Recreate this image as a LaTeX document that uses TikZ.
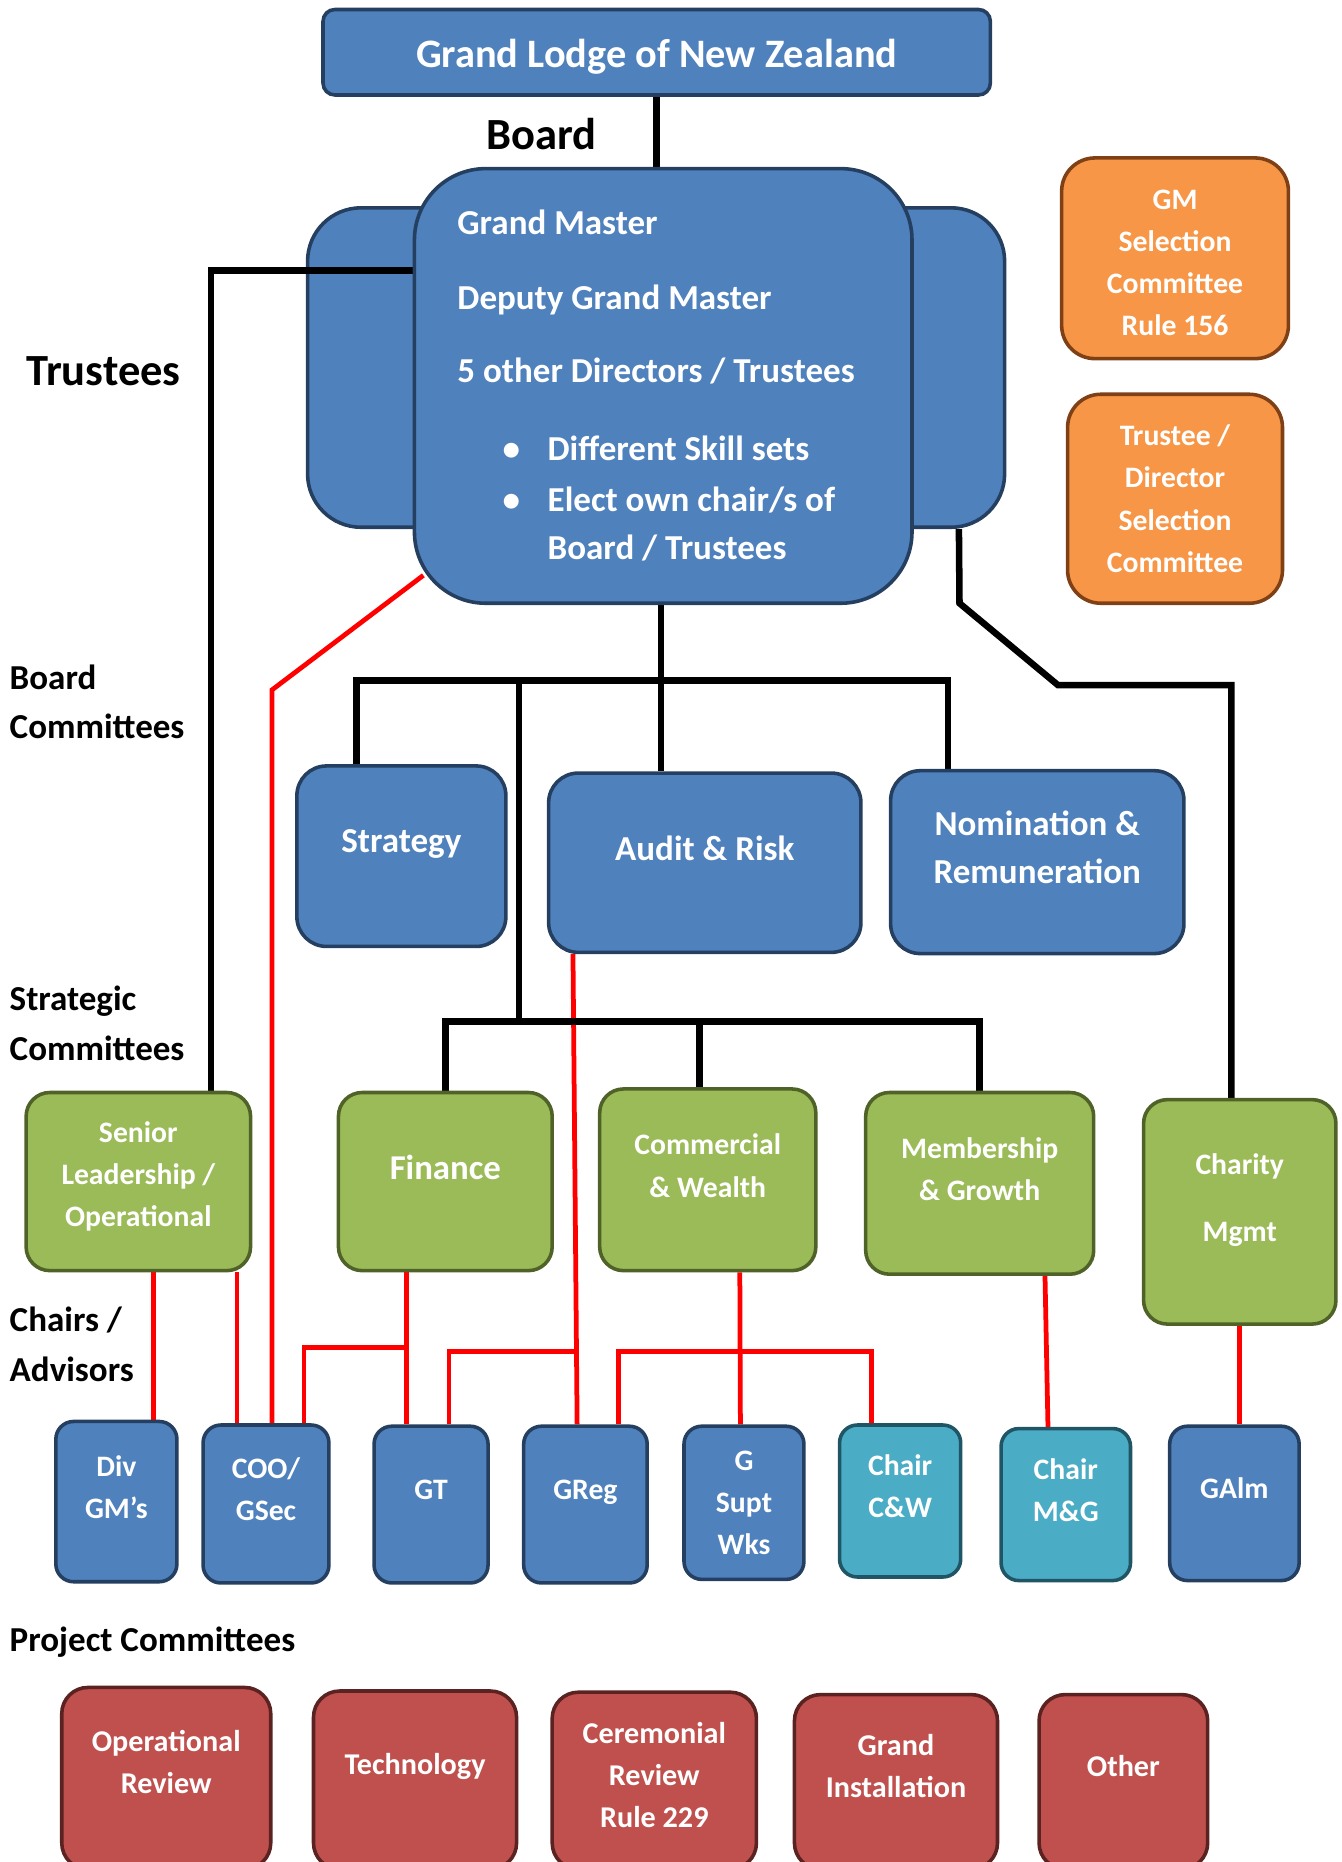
\documentclass[tikz,border=0pt]{standalone}
\usepackage{fontspec}
\setmainfont{Carlito}
\usepackage{tikz}
\usetikzlibrary{backgrounds}

\definecolor{boxblue}{HTML}{4F81BD}
\definecolor{lineblue}{HTML}{243F60}
\definecolor{boxgreen}{HTML}{9BBB59}
\definecolor{linegreen}{HTML}{4F6228}
\definecolor{boxorange}{HTML}{F79646}
\definecolor{lineorange}{HTML}{7F4016}
\definecolor{boxred}{HTML}{C0504D}
\definecolor{linered}{HTML}{5A2220}
\definecolor{boxteal}{HTML}{4BACC6}
\definecolor{lineteal}{HTML}{1F5565}

\begin{document}
\begin{tikzpicture}[x=1pt,y=-1pt,
  org/.style={draw=lineblue, fill=boxblue, line width=3pt, text=white,
    align=center, inner sep=0pt},
  bluebox/.style={org, rounded corners=25pt,
    font=\bfseries\fontsize{29.5}{41}\selectfont, text depth=25pt},
  greenbox/.style={org, draw=linegreen, fill=boxgreen, rounded corners=20pt,
    font=\bfseries\fontsize{25}{35.5}\selectfont, text depth=24pt},
  chairbox/.style={org, rounded corners=15pt,
    font=\bfseries\fontsize{25}{35.5}\selectfont, text depth=25pt},
  tealbox/.style={chairbox, draw=lineteal, fill=boxteal},
  selbox/.style={org, draw=lineorange, fill=boxorange, rounded corners=28pt,
    font=\bfseries\fontsize{25}{35.5}\selectfont},
  projbox/.style={org, draw=linered, fill=boxred, rounded corners=22pt,
    font=\bfseries\fontsize{25.4}{35.5}\selectfont, text depth=27pt},
  heading/.style={anchor=west, align=left, inner sep=0pt,
    font=\bfseries\fontsize{29.5}{42}\selectfont},
  inlist/.style={anchor=base west, inner sep=0pt, text=white,
    font=\bfseries\fontsize{29.5}{33}\selectfont},
  blk/.style={line width=5.5pt},
  redl/.style={red, line width=4pt}]
\useasboundingbox (0,0) rectangle (1130,1568);
\clip (0,0) rectangle (1130,1568);

%grand lodge
\node[org, rounded corners=10pt, minimum width=562pt, minimum height=72pt,
  text height=31pt, font=\bfseries\fontsize{34}{40}\selectfont] (glnz)
  at (553,44) {Grand Lodge of New Zealand};
\node[inner sep=0pt, font=\bfseries\fontsize{37.5}{42}\selectfont] (boardlbl)
  at (456,113) {Board};
\node[heading, font=\bfseries\fontsize{37.5}{42}\selectfont] (trustlbl)
  at (22,313) {Trustees};

%board
\node[org, rounded corners=60pt, minimum width=419pt, minimum height=366pt]
  (brdfront) at (558.5,325) {};
\node[inlist] (gm) at (385,197.5) {Grand Master};
\node[inlist] (dgm) at (385,260.5) {Deputy Grand Master};
\node[inlist] (dirs) at (385,322.5) {5 other Directors / Trustees};
\node[inlist] (skill) at (423,387.5) {\makebox[38pt][l]{\textbullet}Different Skill sets};
\node[inlist] (elect) at (423,430.5) {\makebox[38pt][l]{\textbullet}Elect own chair/s of};
\node[inlist] (electb) at (461,471.5) {Board / Trustees};

%selection committees
\node[selbox, minimum width=191pt, minimum height=169pt, text height=131pt]
  (gmsel) at (989.5,217.5) {GM\\Selection\\Committee\\Rule 156};
\node[selbox, minimum width=181pt, minimum height=176pt] (trsel)
  at (989.5,420) {Trustee /\\Director\\Selection\\Committee};

%level labels
\node[heading] (lblboard) at (8,591) {Board\\Committees};
\node[heading] (lblstrat) at (8,861.5) {Strategic\\Committees};
\node[heading] (lblchair) at (8,1132) {Chairs /\\Advisors};
\node[heading] (lblproj) at (8,1383) {Project Committees};

%board committees
\node[bluebox, minimum width=176pt, minimum height=152pt] (strat)
  at (338,721) {Strategy};
\node[bluebox, minimum width=263pt, minimum height=151pt] (audit)
  at (593.5,726.5) {Audit \& Risk};
\node[bluebox, minimum width=247pt, minimum height=154pt] (nomrem)
  at (873.5,726) {Nomination \&\\Remuneration};

%strategic committees
\node[greenbox, minimum width=189pt, minimum height=150pt, text depth=13pt]
  (senior) at (116.5,995) {Senior\\Leadership /\\Operational};
\node[greenbox, minimum width=180pt, minimum height=150pt,
  font=\bfseries\fontsize{29.3}{41}\selectfont] (fin) at (375,995) {Finance};
\node[greenbox, minimum width=182pt, minimum height=153pt] (comm)
  at (596,993.5) {Commercial\\\& Wealth};
\node[greenbox, minimum width=192pt, minimum height=153pt] (memb)
  at (825,996.5) {Membership\\\& Growth};
\node[greenbox, minimum width=162pt, minimum height=189pt,
  font=\bfseries\fontsize{25}{57}\selectfont] (charity)
  at (1044,1020.5) {Charity\\Mgmt};

%chairs / advisors
\node[chairbox, minimum width=102pt, minimum height=135pt] (divgm)
  at (98,1264.5) {Div\\GM's};
\node[chairbox, minimum width=106pt, minimum height=133pt] (coo)
  at (224,1266.5) {COO/\\GSec};
\node[chairbox, minimum width=96pt, minimum height=132pt] (gt)
  at (363,1267) {GT};
\node[chairbox, minimum width=104pt, minimum height=132pt] (greg)
  at (493,1267) {GReg};
\node[chairbox, minimum width=101pt, minimum height=129pt, text depth=0pt]
  (gsupt) at (626.5,1265.5) {G\\Supt\\Wks};
\node[tealbox, minimum width=102pt, minimum height=128pt] (chaircw)
  at (758,1264) {Chair\\C\&W};
\node[tealbox, minimum width=109pt, minimum height=128pt] (chairmg)
  at (897.5,1267) {Chair\\M\&G};
\node[chairbox, minimum width=109pt, minimum height=130pt] (galm)
  at (1039.5,1266) {GAlm};

%project committees
\node[projbox, minimum width=176pt, minimum height=153pt] (opr)
  at (140,1497.5) {Operational\\Review};
\node[projbox, minimum width=171pt, minimum height=150pt] (tech)
  at (349.5,1499) {Technology};
\node[projbox, minimum width=172pt, minimum height=149pt, text depth=10pt]
  (cerem) at (551,1499.5) {Ceremonial\\Review\\Rule 229};
\node[projbox, minimum width=171pt, minimum height=147pt] (grinst)
  at (754.5,1500.5) {Grand\\Installation};
\node[projbox, minimum width=142pt, minimum height=147pt] (other)
  at (946,1500.5) {Other};

\begin{pgfonlayer}{background}
%board (trustees)
\node[org, rounded corners=45pt, minimum width=587pt, minimum height=269pt]
  (brdback) at (552.5,309.5) {};
%advisor links
\coordinate (rk1) at (229,581);
\coordinate (fb) at (342,1135);
\coordinate (ab) at (485,1138);
\coordinate (cb) at (624,1138);
\draw[redl] ([shift={(9,-25)}]brdfront.south west) -- (rk1) -- (rk1 |- coo.north);
\draw[redl] ([xshift=12.5pt]senior.south) -- ([xshift=12.5pt]senior.south |- divgm.north);
\draw[redl] ([xshift=83pt]senior.south) -- ([xshift=83pt]senior.south |- coo.north);
\draw[redl] ([xshift=-33pt]fin.south) -- ([xshift=-33pt]fin.south |- gt.north);
\draw[redl] (fb) -| ([xshift=32pt]coo.north);
\draw[redl] ([xshift=-111pt]audit.south) -- ([xshift=-7pt]greg.north);
\draw[redl] (ab) -| ([xshift=15pt]gt.north);
\draw[redl] ([xshift=27pt]comm.south) -- ([xshift=-3pt]gsupt.north);
\draw[redl] ([xshift=28pt]greg.north) |- (cb) -| ([xshift=-24pt]chaircw.north);
\draw[redl] ([xshift=55pt]memb.south) -- ([xshift=-15pt]chairmg.north);
\draw[redl] (charity.south) -- (charity.south |- galm.north);
%lodge and committees
\coordinate (bcbus) at (437,573);
\coordinate (scbus) at (437,860);
\coordinate (ck1) at (808,508);
\coordinate (ck2) at (891,577);
\draw[blk] (glnz.south) -- (glnz.south |- brdfront.north);
\draw[blk] ([yshift=97pt]brdfront.west) -| ([xshift=61pt]senior.north);
\draw[blk] ([xshift=-2pt]brdfront.south) -- ([xshift=-2pt]brdfront.south |- audit.north);
\draw[blk] ([xshift=-38pt]strat.north) |- (bcbus) -| ([xshift=-75pt]nomrem.north);
\draw[blk] (bcbus) -- (scbus);
\draw[blk] (fin.north) |- (scbus) -| (memb.north);
\draw[blk] ([xshift=-7pt]comm.north) -- ([xshift=-7pt]comm.north |- scbus);
\draw[blk] ([xshift=-40pt]brdback.south east) -- (ck1) -- (ck2)
  -| ([xshift=-7pt]charity.north);
\end{pgfonlayer}
\end{tikzpicture}
\end{document}
